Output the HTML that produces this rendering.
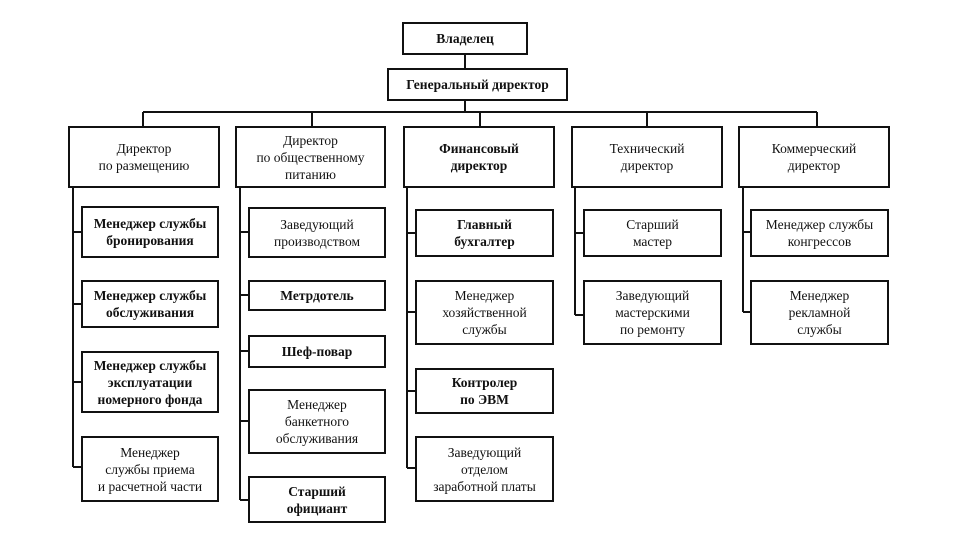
<!DOCTYPE html>
<html><head><meta charset="utf-8"><style>
html,body{margin:0;padding:0;background:#fff;width:960px;height:540px;overflow:hidden}
.b{position:absolute;border:2px solid #111;box-sizing:border-box;display:flex;align-items:center;justify-content:center;text-align:center;font-family:"Liberation Serif","Noto Serif CJK SC",serif;font-size:13.5px;line-height:17px;color:#111;background:#fff}
.bold{font-weight:bold}
svg{position:absolute;left:0;top:0}
</style></head><body>
<svg width="960" height="540">
<g stroke="#111" stroke-width="2" fill="none">
<line x1="465" y1="54" x2="465" y2="68"/>
<line x1="465" y1="100" x2="465" y2="112"/>
<line x1="143" y1="112" x2="817" y2="112"/>
<line x1="143" y1="112" x2="143" y2="127"/>
<line x1="312" y1="112" x2="312" y2="127"/>
<line x1="480" y1="112" x2="480" y2="127"/>
<line x1="647" y1="112" x2="647" y2="127"/>
<line x1="817" y1="112" x2="817" y2="127"/>
<!-- col1 -->
<line x1="73" y1="187" x2="73" y2="467"/>
<line x1="73" y1="232" x2="81" y2="232"/><line x1="73" y1="304" x2="81" y2="304"/>
<line x1="73" y1="382" x2="81" y2="382"/><line x1="73" y1="467" x2="81" y2="467"/>
<!-- col2 -->
<line x1="240" y1="187" x2="240" y2="500"/>
<line x1="240" y1="232" x2="248" y2="232"/><line x1="240" y1="295" x2="248" y2="295"/>
<line x1="240" y1="351" x2="248" y2="351"/><line x1="240" y1="421" x2="248" y2="421"/>
<line x1="240" y1="500" x2="248" y2="500"/>
<!-- col3 -->
<line x1="407" y1="187" x2="407" y2="468"/>
<line x1="407" y1="233" x2="415" y2="233"/><line x1="407" y1="312" x2="415" y2="312"/>
<line x1="407" y1="391" x2="415" y2="391"/><line x1="407" y1="468" x2="415" y2="468"/>
<!-- col4 -->
<line x1="575" y1="187" x2="575" y2="315"/>
<line x1="575" y1="233" x2="583" y2="233"/><line x1="575" y1="315" x2="583" y2="315"/>
<!-- col5 -->
<line x1="743" y1="187" x2="743" y2="312"/>
<line x1="743" y1="232" x2="750" y2="232"/><line x1="743" y1="312" x2="750" y2="312"/>
</g></svg>

<div class="b bold" style="left:402px;top:22px;width:126px;height:33px">Владелец</div>
<div class="b bold" style="left:387px;top:68px;width:181px;height:33px">Генеральный директор</div>

<div class="b" style="left:68px;top:126px;width:152px;height:62px">Директор<br>по размещению</div>
<div class="b" style="left:235px;top:126px;width:151px;height:62px">Директор<br>по общественному<br>питанию</div>
<div class="b bold" style="left:403px;top:126px;width:152px;height:62px">Финансовый<br>директор</div>
<div class="b" style="left:571px;top:126px;width:152px;height:62px">Технический<br>директор</div>
<div class="b" style="left:738px;top:126px;width:152px;height:62px">Коммерческий<br>директор</div>

<div class="b bold" style="left:81px;top:206px;width:138px;height:52px">Менеджер службы<br>бронирования</div>
<div class="b bold" style="left:81px;top:280px;width:138px;height:48px">Менеджер службы<br>обслуживания</div>
<div class="b bold" style="left:81px;top:351px;width:138px;height:62px">Менеджер службы<br>эксплуатации<br>номерного фонда</div>
<div class="b" style="left:81px;top:436px;width:138px;height:66px">Менеджер<br>службы приема<br>и расчетной части</div>

<div class="b" style="left:248px;top:207px;width:138px;height:51px">Заведующий<br>производством</div>
<div class="b bold" style="left:248px;top:280px;width:138px;height:31px">Метрдотель</div>
<div class="b bold" style="left:248px;top:335px;width:138px;height:33px">Шеф-повар</div>
<div class="b" style="left:248px;top:389px;width:138px;height:65px">Менеджер<br>банкетного<br>обслуживания</div>
<div class="b bold" style="left:248px;top:476px;width:138px;height:47px">Старший<br>официант</div>

<div class="b bold" style="left:415px;top:209px;width:139px;height:48px">Главный<br>бухгалтер</div>
<div class="b" style="left:415px;top:280px;width:139px;height:65px">Менеджер<br>хозяйственной<br>службы</div>
<div class="b bold" style="left:415px;top:368px;width:139px;height:46px">Контролер<br>по ЭВМ</div>
<div class="b" style="left:415px;top:436px;width:139px;height:66px">Заведующий<br>отделом<br>заработной платы</div>

<div class="b" style="left:583px;top:209px;width:139px;height:48px">Старший<br>мастер</div>
<div class="b" style="left:583px;top:280px;width:139px;height:65px">Заведующий<br>мастерскими<br>по ремонту</div>

<div class="b" style="left:750px;top:209px;width:139px;height:48px">Менеджер службы<br>конгрессов</div>
<div class="b" style="left:750px;top:280px;width:139px;height:65px">Менеджер<br>рекламной<br>службы</div>
</body></html>
